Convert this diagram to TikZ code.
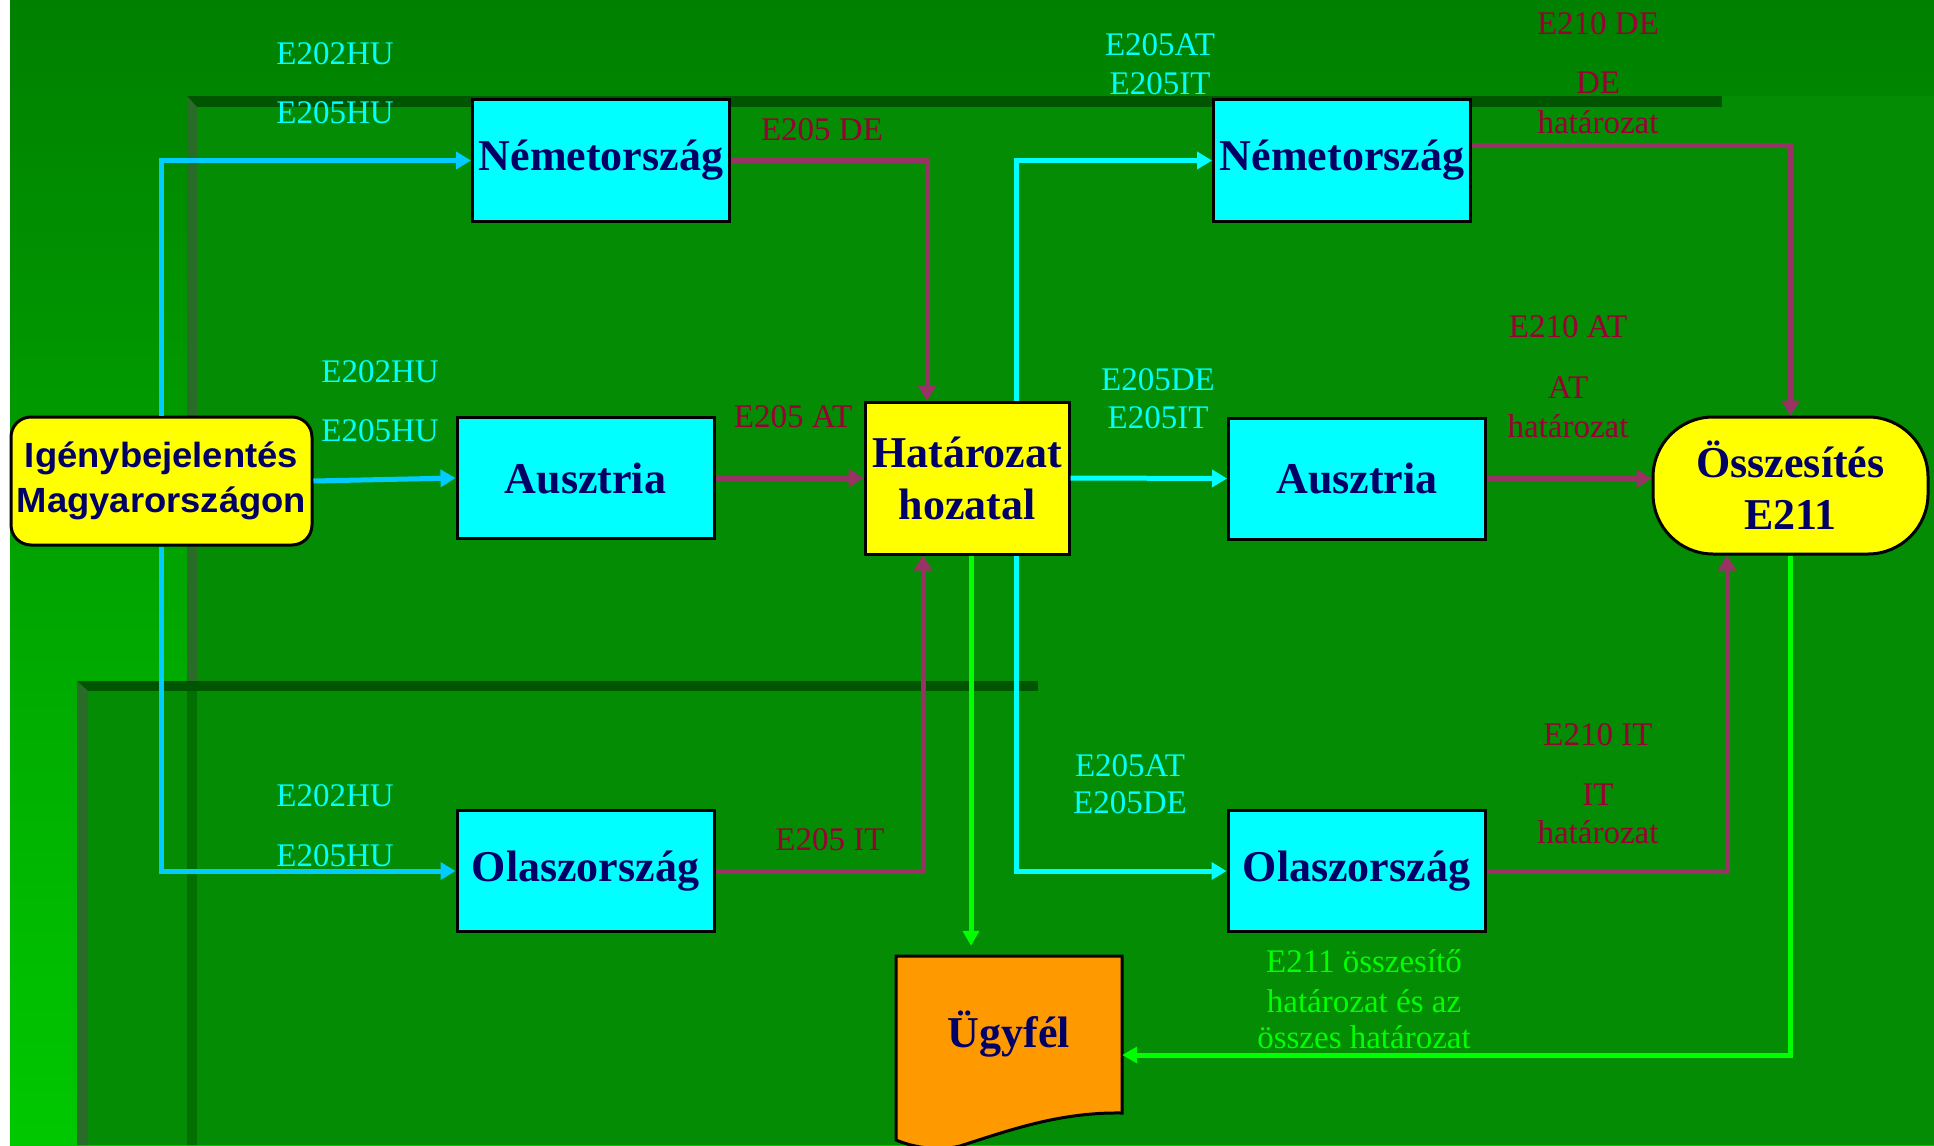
\documentclass[tikz,border=0pt]{standalone}
\usepackage{fontspec}
\setmainfont{Liberation Serif}
\newfontfamily\igfont[FakeStretch=1.04]{Liberation Sans}
\usetikzlibrary{arrows.meta}
\definecolor{bgtop}{RGB}{0,128,0}
\definecolor{bgbot}{RGB}{0,200,0}
\definecolor{panelgreen}{RGB}{4,140,4}
\definecolor{bardark}{RGB}{0,85,0}
\definecolor{bevelgreen}{RGB}{40,108,40}
\definecolor{boxcyan}{RGB}{0,255,255}
\definecolor{boxyellow}{RGB}{255,255,0}
\definecolor{boxorange}{RGB}{255,153,0}
\definecolor{navytext}{RGB}{0,0,102}
\definecolor{skyline}{RGB}{0,204,255}
\definecolor{aqualine}{RGB}{0,255,255}
\definecolor{plumline}{RGB}{153,51,102}
\definecolor{plumtext}{RGB}{153,0,51}
\definecolor{limeline}{RGB}{0,255,0}
\begin{document}
\begin{tikzpicture}[x=1pt,y=-1pt,
  box/.style={draw,line width=3pt,fill=boxcyan,text=navytext,minimum width=257pt,minimum height=121pt,
    font=\fontsize{44}{52}\selectfont\bfseries},
  lbl/.style={anchor=base,inner sep=0pt,font=\fontsize{33}{39}\selectfont},
  skyarrow/.style={draw=skyline,line width=5pt,-{Triangle[length=15pt,width=17pt]}},
  aquaarrow/.style={draw=aqualine,line width=5pt,-{Triangle[length=15pt,width=17pt]}},
  plumarrow/.style={draw=plumline,line width=5pt,-{Triangle[length=15pt,width=18pt]}},
  limearrow/.style={draw=limeline,line width=5pt,-{Triangle[length=15pt,width=16pt]}}]
\useasboundingbox (0,0) rectangle (1934,1145);
% background and panels
\fill[white] (0,0) rectangle (1934,1145);
\shade[top color=bgtop,bottom color=bgbot] (10,0) rectangle (1934,1145);
\fill[panelgreen] (187,96) rectangle (1934,1145);
\fill[bardark] (187,96) rectangle (1722,107);
\fill[bevelgreen] (187,96) -- (197,107) -- (197,1145) -- (187,1145) -- cycle;
\fill[panelgreen] (77,681) rectangle (1934,1145);
\fill[bardark] (77,681) rectangle (1038,691);
\fill[bevelgreen] (77,681) -- (88,691) -- (88,1145) -- (77,1145) -- cycle;
\fill[bardark,opacity=.5] (187,691) rectangle (197,1145);
% boxes
\node[box,fill=boxyellow,rounded corners=20pt,minimum width=301pt,minimum height=128pt,inner sep=1pt,
  align=center,font=\igfont\fontsize{35}{45}\selectfont\bfseries] (ig) at (161.5,481) {Igénybejelentés\\Magyarországon};
\node[box] (n1) at (601,160.5) {Németország};
\node[box] (a1) at (585.5,478) {Ausztria};
\node[box] (o1) at (585.5,871) {Olaszország};
\node[box,fill=boxyellow,minimum width=204pt,minimum height=152pt,align=center] (hat) at (967,478) {Határozat\\hozatal};
\node[box] (n2) at (1342,160.5) {Németország};
\node[box] (a2) at (1357,478.5) {Ausztria};
\node[box] (o2) at (1356.5,871) {Olaszország};
\node[box,fill=boxyellow,rounded corners=60pt,minimum width=275pt,minimum height=137pt,align=center] (ossz) at (1790.5,485.5) {Összesítés\\E211};
\filldraw[fill=boxorange,line width=3pt] (896,956) -- (1122,956) -- (1122,1113)
  .. controls (1060,1112) and (1010,1130) .. (960,1146)
  .. controls (935,1152) and (910,1146) .. (896,1140) -- cycle;
\node[text=navytext,font=\fontsize{44}{52}\selectfont\bfseries,minimum width=226pt,minimum height=157pt] (ugy) at (1009,1034.5) {Ügyfél};
% connectors
\draw[skyarrow] (ig.north) |- (n1.west);
\draw[skyarrow] (ig.east) -- (a1.west);
\draw[skyarrow] (ig.south) |- (o1.west);
\draw[plumarrow] (n1.east) -| ([xshift=-40pt]hat.north);
\draw[plumarrow] (a1.east) -- (hat.west);
\draw[plumarrow] (o1.east) -| ([xshift=-44pt]hat.south);
\draw[aquaarrow] ([xshift=49pt]hat.north) |- (n2.west);
\draw[aquaarrow] (hat.east) -- (a2.west);
\draw[aquaarrow] ([xshift=49pt]hat.south) |- (o2.west);
\draw[plumarrow] ([yshift=15.5pt]n2.east) -| (ossz.north);
\draw[plumarrow] (a2.east) -- (a2.east -| ossz.west);
\draw[plumarrow] (o2.east) -| ([xshift=-63.5pt]ossz.south);
\draw[limearrow] ([xshift=4pt]hat.south) -- ([xshift=-38pt,yshift=10pt]ugy.north);
\draw[limearrow] (ossz.south) |- ([yshift=-20.5pt]ugy.east);
% labels
\node[lbl,text=aqualine] (hu1a) at (335,65) {E202HU};
\node[lbl,text=aqualine] (hu1b) at (335,124) {E205HU};
\node[lbl,text=aqualine] (hu2a) at (380,382) {E202HU};
\node[lbl,text=aqualine] (hu2b) at (380,441) {E205HU};
\node[lbl,text=aqualine] (hu3a) at (335,806) {E202HU};
\node[lbl,text=aqualine] (hu3b) at (335,866) {E205HU};
\node[lbl,text=aqualine] (de1a) at (1160,56) {E205AT};
\node[lbl,text=aqualine] (de1b) at (1160,95) {E205IT};
\node[lbl,text=aqualine] (at1a) at (1158,390) {E205DE};
\node[lbl,text=aqualine] (at1b) at (1158,428) {E205IT};
\node[lbl,text=aqualine] (it1a) at (1130,776) {E205AT};
\node[lbl,text=aqualine] (it1b) at (1130,813) {E205DE};
\node[lbl,text=plumtext] (dein) at (822,140) {E205 DE};
\node[lbl,text=plumtext] (atin) at (793,427) {E205 AT};
\node[lbl,text=plumtext] (itin) at (830,850) {E205 IT};
\node[lbl,text=plumtext] (deouta) at (1598,35) {E210 DE};
\node[lbl,text=plumtext] (deoutb) at (1598,94) {DE};
\node[lbl,text=plumtext] (deoutc) at (1598,134) {határozat};
\node[lbl,text=plumtext] (atouta) at (1568,337) {E210 AT};
\node[lbl,text=plumtext] (atoutb) at (1568,398) {AT};
\node[lbl,text=plumtext] (atoutc) at (1568,437) {határozat};
\node[lbl,text=plumtext] (itouta) at (1598,745) {E210 IT};
\node[lbl,text=plumtext] (itoutb) at (1598,805) {IT};
\node[lbl,text=plumtext] (itoutc) at (1598,843) {határozat};
\node[lbl,text=limeline] (sum1) at (1364,972) {E211 összesítő};
\node[lbl,text=limeline] (sum2) at (1364,1012) {határozat és az};
\node[lbl,text=limeline] (sum3) at (1364,1048) {összes határozat};
\end{tikzpicture}
\end{document}
